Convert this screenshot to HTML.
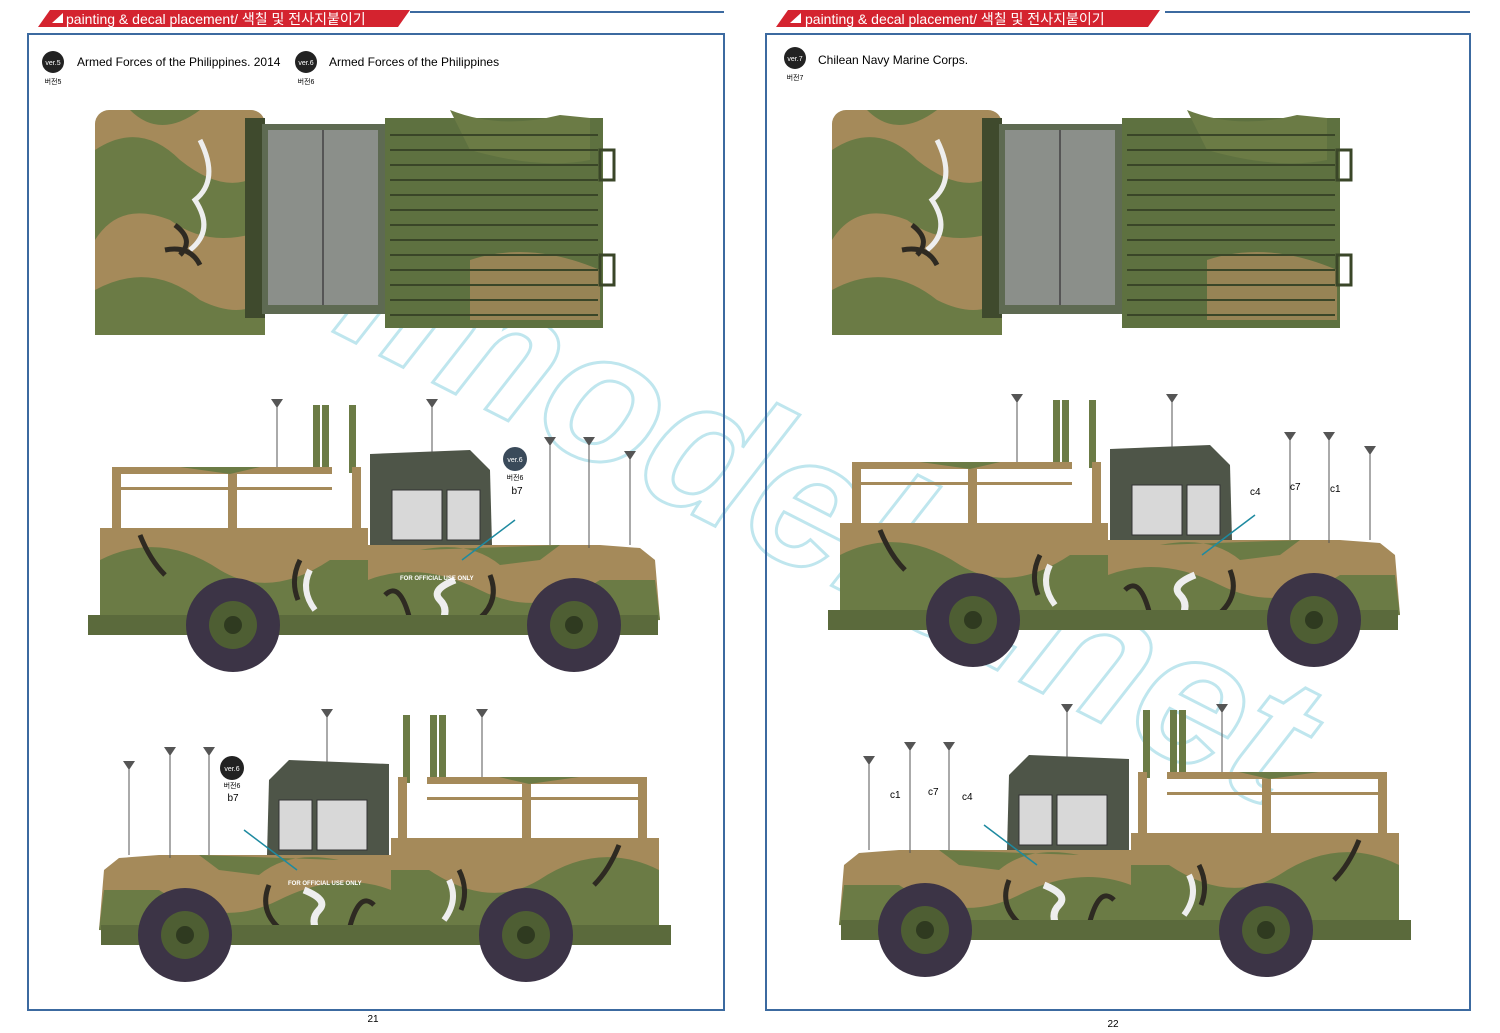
<!DOCTYPE html>
<html><head><meta charset="utf-8"><style>
html,body{margin:0;padding:0;background:#fff;width:1500px;height:1033px;overflow:hidden}
svg{display:block;overflow:hidden}
text{font-family:"Liberation Sans","Noto Sans CJK KR",sans-serif}
</style></head><body>
<svg width="1500" height="1033" viewBox="0 0 1500 1033" xmlns="http://www.w3.org/2000/svg">
<defs>
<clipPath id="pg"><rect x="0" y="0" width="1500" height="1033"/></clipPath>
<g id="top">
  <rect x="95" y="110" width="170" height="225" rx="14" fill="#a58a5a"/>
  <path d="M95 150 Q140 120 180 160 Q230 200 265 170 L265 230 Q210 250 170 220 Q120 200 95 240Z" fill="#6b7b45"/>
  <path d="M130 110 Q160 140 200 110Z M95 290 Q150 260 200 300 Q240 320 265 300 L265 335 L95 335Z" fill="#6b7b45"/>
  <path d="M200 140 Q220 180 195 200 Q215 230 190 250" stroke="#eee" stroke-width="5" fill="none"/>
  <path d="M175 225 Q195 240 180 255 M165 250 Q190 245 200 265" stroke="#2e2a22" stroke-width="5" fill="none"/>
  <rect x="245" y="118" width="20" height="200" fill="#3f4a2d"/>
  <rect x="262" y="124" width="123" height="190" fill="#5e6a52"/>
  <rect x="268" y="130" width="110" height="175" fill="#8b8f8a"/>
  <line x1="323" y1="130" x2="323" y2="305" stroke="#555" stroke-width="2"/>
  <rect x="385" y="118" width="218" height="210" fill="#5e7140"/>
  <path d="M450 110 Q500 130 560 115 L590 118 L590 160 Q540 170 470 150Z" fill="#6b7b45"/>
  <path d="M470 260 Q530 240 600 270 L600 320 L470 320Z" fill="#a58a5a" opacity=".8"/>
  <g stroke="#3a4628" stroke-width="2">
    <line x1="390" y1="135" x2="598" y2="135"/><line x1="390" y1="150" x2="598" y2="150"/><line x1="390" y1="165" x2="598" y2="165"/><line x1="390" y1="180" x2="598" y2="180"/><line x1="390" y1="195" x2="598" y2="195"/><line x1="390" y1="210" x2="598" y2="210"/><line x1="390" y1="225" x2="598" y2="225"/><line x1="390" y1="240" x2="598" y2="240"/><line x1="390" y1="255" x2="598" y2="255"/><line x1="390" y1="270" x2="598" y2="270"/><line x1="390" y1="285" x2="598" y2="285"/><line x1="390" y1="300" x2="598" y2="300"/><line x1="390" y1="315" x2="598" y2="315"/>
  </g>
  <rect x="600" y="150" width="14" height="30" fill="none" stroke="#3a4628" stroke-width="3"/>
  <rect x="600" y="255" width="14" height="30" fill="none" stroke="#3a4628" stroke-width="3"/>
</g>
<g id="side">
  <rect x="313" y="405" width="7" height="68" fill="#6b7b45"/><rect x="322" y="405" width="7" height="68" fill="#6b7b45"/><rect x="349" y="405" width="7" height="68" fill="#6b7b45"/>
  <rect x="112" y="467" width="220" height="7" fill="#a58a5a"/>
  <rect x="112" y="487" width="220" height="3" fill="#a58a5a"/>
  <rect x="112" y="467" width="9" height="62" fill="#a58a5a"/>
  <rect x="228" y="467" width="9" height="62" fill="#a58a5a"/>
  <rect x="352" y="467" width="9" height="62" fill="#a58a5a"/>
  <path d="M180 467 L230 474 L260 467Z" fill="#6b7b45"/>
  <rect x="100" y="528" width="268" height="88" fill="#a58a5a"/>
  <path d="M100 560 Q160 530 220 570 Q270 600 330 560 L368 560 L368 616 L100 616Z" fill="#6b7b45"/>
  <path d="M140 535 Q150 560 165 575 M300 560 Q290 580 298 600" stroke="#2e2a22" stroke-width="5" fill="none"/>
  <path d="M310 570 Q300 590 315 610" stroke="#eee" stroke-width="6" fill="none"/>
  <path d="M370 454 L470 450 L490 470 L492 545 L370 545Z" fill="#4e5548"/>
  <rect x="392" y="490" width="50" height="50" fill="#d8d8d8" stroke="#333"/>
  <rect x="447" y="490" width="33" height="50" fill="#d8d8d8" stroke="#333"/>
  <path d="M368 545 L600 545 L640 548 L655 560 L660 620 L368 630Z" fill="#a58a5a"/>
  <path d="M368 580 Q420 560 480 590 Q540 620 600 580 L655 580 L660 620 L368 630Z" fill="#6b7b45"/>
  <path d="M420 550 Q470 540 500 565 L540 560 L560 545Z" fill="#6b7b45"/>
  <path d="M385 595 Q400 580 410 620 M490 575 Q500 600 480 618" stroke="#2e2a22" stroke-width="5" fill="none"/>
  <path d="M455 580 Q430 590 440 600 Q450 610 440 625" stroke="#eee" stroke-width="7" fill="none"/>
  <line x1="462" y1="560" x2="515" y2="520" stroke="#1e8aa0" stroke-width="1.5"/>
  <rect x="88" y="615" width="570" height="20" fill="#5b6a3c"/>
  <circle cx="233" cy="625" r="47" fill="#3c3446"/><circle cx="233" cy="625" r="24" fill="#4e5e33"/><circle cx="233" cy="625" r="9" fill="#2f3a20"/>
  <circle cx="574" cy="625" r="47" fill="#3c3446"/><circle cx="574" cy="625" r="24" fill="#4e5e33"/><circle cx="574" cy="625" r="9" fill="#2f3a20"/>
  <g stroke="#555" stroke-width="1"><line x1="277" y1="404" x2="277" y2="467"/><line x1="432" y1="404" x2="432" y2="452"/><line x1="550" y1="440" x2="550" y2="545"/><line x1="589" y1="440" x2="589" y2="548"/><line x1="630" y1="455" x2="630" y2="545"/></g>
  <g fill="#555"><path d="M271 399h12l-6 9z"/><path d="M426 399h12l-6 9z"/><path d="M544 437h12l-6 9z"/><path d="M583 437h12l-6 9z"/><path d="M624 451h12l-6 9z"/></g>
</g>
</defs>

<g clip-path="url(#pg)">
<text x="330" y="330" font-size="190" font-weight="bold" font-style="italic" fill="none" stroke="#bfe6ee" stroke-width="3" transform="rotate(27 330 330)">imodels.net</text>
</g>

<rect x="28" y="34" width="696" height="976" fill="none" stroke="#3c6aa0" stroke-width="2"/>
<rect x="766" y="34" width="704" height="976" fill="none" stroke="#3c6aa0" stroke-width="2"/>
<line x1="410" y1="12" x2="724" y2="12" stroke="#3c6aa0" stroke-width="2"/>
<line x1="1165" y1="12" x2="1470" y2="12" stroke="#3c6aa0" stroke-width="2"/>
<path d="M38 27 L50 10 L410 10 L398 27Z" fill="#d4232f"/>
<path d="M776 27 L788 10 L1160 10 L1148 27Z" fill="#d4232f"/>
<path d="M52 23 L63 13 L63 23Z" fill="#fff"/><path d="M790 23 L801 13 L801 23Z" fill="#fff"/>
<text x="66" y="24" font-size="14" fill="#fff">painting &amp; decal placement/ 색칠 및 전사지붙이기</text>
<text x="805" y="24" font-size="14" fill="#fff">painting &amp; decal placement/ 색칠 및 전사지붙이기</text>

<g font-size="12">
<circle cx="53" cy="62" r="11" fill="#222"/><text x="53" y="65" font-size="7" fill="#fff" text-anchor="middle">ver.5</text><text x="53" y="84" font-size="7" text-anchor="middle">버전5</text>
<text x="77" y="66">Armed Forces of the Philippines. 2014</text>
<circle cx="306" cy="62" r="11" fill="#222"/><text x="306" y="65" font-size="7" fill="#fff" text-anchor="middle">ver.6</text><text x="306" y="84" font-size="7" text-anchor="middle">버전6</text>
<text x="329" y="66">Armed Forces of the Philippines</text>
<circle cx="795" cy="58" r="11" fill="#222"/><text x="795" y="61" font-size="7" fill="#fff" text-anchor="middle">ver.7</text><text x="795" y="80" font-size="7" text-anchor="middle">버전7</text>
<text x="818" y="64">Chilean Navy Marine Corps.</text>
</g>

<use href="#top"/>
<use href="#top" transform="translate(737,0)"/>
<use href="#side"/>
<use href="#side" transform="translate(740,-5)"/>
<use href="#side" transform="translate(759,310) scale(-1,1)"/>
<use href="#side" transform="translate(1499,305) scale(-1,1)"/>

<g font-size="9">
<circle cx="515" cy="459" r="12" fill="#3a4a5a"/><text x="515" y="462" fill="#fff" font-size="7" text-anchor="middle">ver.6</text>
<text x="515" y="480" font-size="7" text-anchor="middle">버전6</text><text x="517" y="494" font-size="10" text-anchor="middle">b7</text>
<text x="400" y="580" fill="#fff" font-size="6" font-weight="bold">FOR OFFICIAL USE ONLY</text>
<circle cx="232" cy="768" r="12" fill="#222"/><text x="232" y="771" fill="#fff" font-size="7" text-anchor="middle">ver.6</text>
<text x="232" y="788" font-size="7" text-anchor="middle">버전6</text><text x="233" y="801" font-size="10" text-anchor="middle">b7</text>
<text x="288" y="885" fill="#fff" font-size="6" font-weight="bold">FOR OFFICIAL USE ONLY</text>
<text x="1250" y="495" font-size="10">c4</text><text x="1290" y="490" font-size="10">c7</text><text x="1330" y="492" font-size="10">c1</text>
<text x="890" y="798" font-size="10">c1</text><text x="928" y="795" font-size="10">c7</text><text x="962" y="800" font-size="10">c4</text>
<text x="373" y="1022" font-size="10" text-anchor="middle">21</text>
<text x="1113" y="1027" font-size="10" text-anchor="middle">22</text>
</g>
</svg>
</body></html>
